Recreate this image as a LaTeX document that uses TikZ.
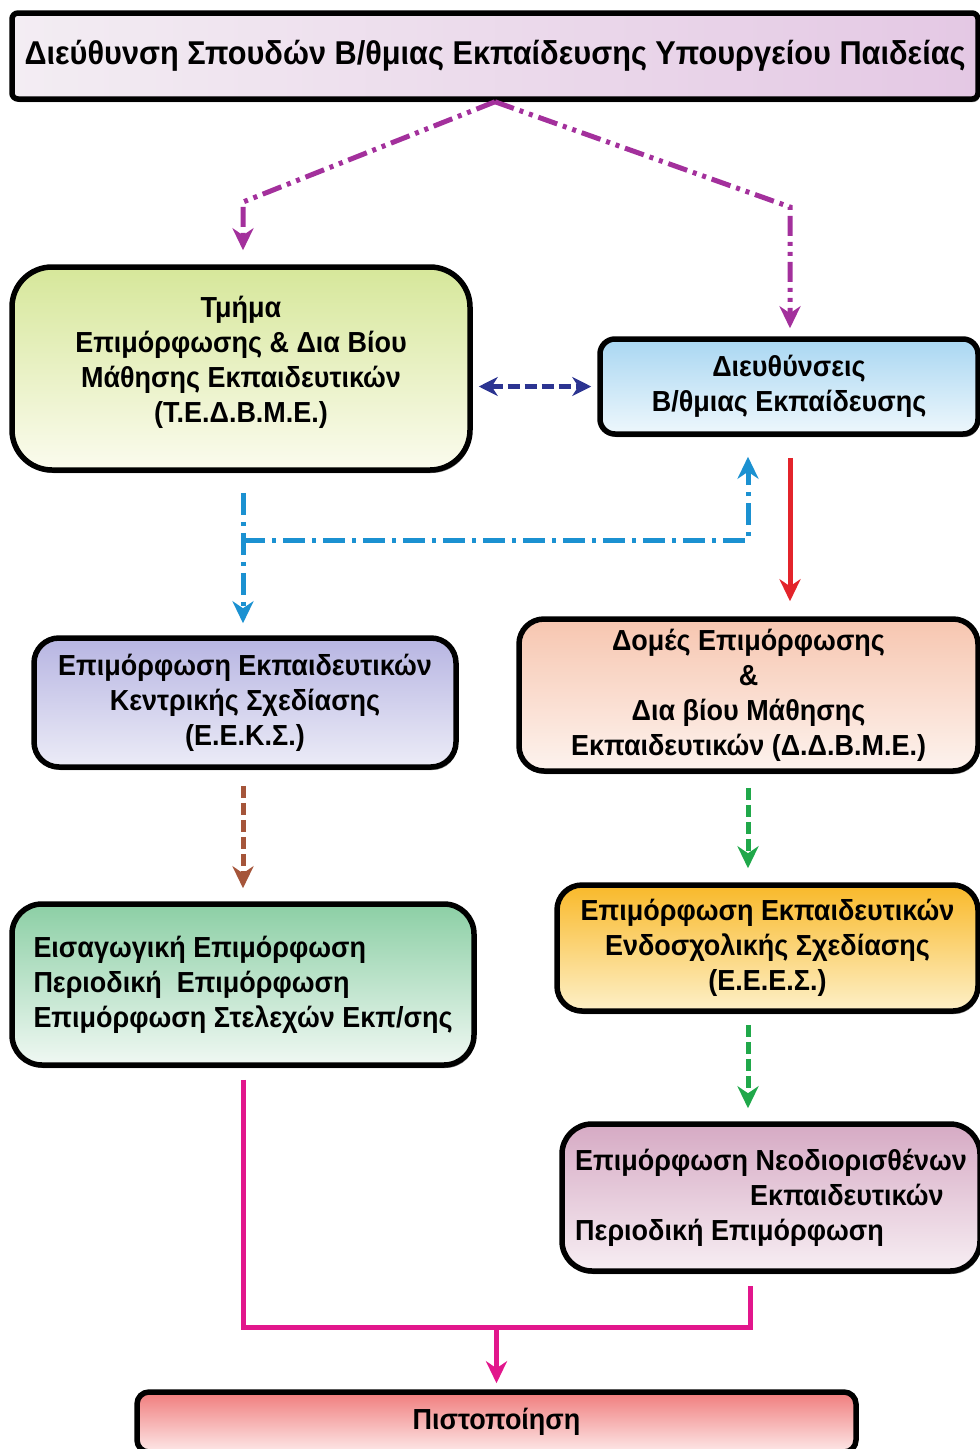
\documentclass[tikz,border=0pt]{standalone}
\usepackage{fontspec}
\setmainfont{Liberation Sans}[FakeStretch=0.93]
\usetikzlibrary{arrows.meta,shadows}
\definecolor{cpurple}{HTML}{A3309C}
\definecolor{cdblue}{HTML}{2C3491}
\definecolor{ccyan}{HTML}{1B91D1}
\definecolor{cred}{HTML}{E3242B}
\definecolor{cbrown}{HTML}{A5553A}
\definecolor{cgreen}{HTML}{20A84A}
\definecolor{cmag}{HTML}{E2168C}
\definecolor{topL}{HTML}{F3EDF3}
\definecolor{topR}{HTML}{E4C8E4}
\definecolor{tedT}{HTML}{D6E79A}
\definecolor{tedB}{HTML}{FBFBEE}
\definecolor{dirT}{HTML}{A9D7F2}
\definecolor{dirB}{HTML}{EEF7FC}
\definecolor{eeksT}{HTML}{B7B5E2}
\definecolor{eeksB}{HTML}{ECECF7}
\definecolor{ddbT}{HTML}{F7C6B0}
\definecolor{ddbB}{HTML}{FDF3EE}
\definecolor{intT}{HTML}{8CCFA5}
\definecolor{intB}{HTML}{F0F8F3}
\definecolor{eeesT}{HTML}{F9B92A}
\definecolor{eeesB}{HTML}{FDF0C8}
\definecolor{neoT}{HTML}{D6AAC4}
\definecolor{neoB}{HTML}{F7EEF3}
\definecolor{pistT}{HTML}{F07C7C}
\definecolor{pistB}{HTML}{FDE8E8}
\begin{document}
\begin{tikzpicture}[x=1pt,y=-1pt,
  box/.style={draw=black, line width=5.5pt, rounded corners=#1, align=center,
    inner sep=0pt, font=\bfseries\fontsize{29}{35}\selectfont,
    drop shadow={shadow xshift=1.5pt, shadow yshift=-3pt, fill=black!65, opacity=0.8}},
  box/.default=20,
  conn/.style={line width=5pt},
  tip/.style={-{Stealth[length=22pt,width=21pt,inset=7pt]}},
  dashdotdot/.style={dash pattern=on 20pt off 6pt on 4pt off 6pt on 4pt off 6pt},
  dashdotline/.style={dash pattern=on 22pt off 7pt on 4pt off 7pt},
  dashline/.style={dash pattern=on 12pt off 5pt}]
\useasboundingbox (0,0) rectangle (980,1449);

\node[box=6, minimum width=966pt, minimum height=86pt, left color=topL, right color=topR,
  font=\bfseries\fontsize{33}{38}\selectfont] (top) at (495,56)
  {Διεύθυνση Σπουδών Β/θμιας Εκπαίδευσης Υπουργείου Παιδείας};

\node[box=40, minimum width=458pt, minimum height=203pt, top color=tedT, bottom color=tedB] (ted) at (241,368.5)
  {Τμήμα\\Επιμόρφωσης \& Δια Βίου\\Μάθησης Εκπαιδευτικών\\(Τ.Ε.Δ.Β.Μ.Ε.)\\[-17pt]\mbox{}};

\node[box=15, minimum width=378pt, minimum height=95pt, top color=dirT, bottom color=dirB] (dir) at (789,386.5)
  {Διευθύνσεις\\Β/θμιας Εκπαίδευσης};

\node[box=25, minimum width=422pt, minimum height=129pt, top color=eeksT, bottom color=eeksB] (eeks) at (245,702.5)
  {Επιμόρφωση Εκπαιδευτικών\\Κεντρικής Σχεδίασης\\(Ε.Ε.Κ.Σ.)};

\node[box=25, minimum width=459pt, minimum height=152pt, top color=ddbT, bottom color=ddbB] (ddb) at (748.5,695)
  {Δομές Επιμόρφωσης\\\&\\Δια βίου Μάθησης\\Εκπαιδευτικών (Δ.Δ.Β.Μ.Ε.)};

\node[box=30, minimum width=462pt, minimum height=161pt, top color=intT, bottom color=intB, align=left] (intro) at (243,984.5)
  {Εισαγωγική Επιμόρφωση\\Περιοδική\ \ Επιμόρφωση\\Επιμόρφωση Στελεχών Εκπ/σης};

\node[box=25, minimum width=421pt, minimum height=126pt, top color=eeesT, bottom color=eeesB] (eees) at (767.5,948)
  {Επιμόρφωση Εκπαιδευτικών\\Ενδοσχολικής Σχεδίασης\\(Ε.Ε.Ε.Σ.)};

\node[box=30, minimum width=418pt, minimum height=147pt, top color=neoT, bottom color=neoB, align=left] (neo) at (771,1197.5)
  {Επιμόρφωση Νεοδιορισθένων\\\hspace*{175pt}Εκπαιδευτικών\\Περιοδική Επιμόρφωση};

\node[box=12, minimum width=719pt, minimum height=60pt, top color=pistT, bottom color=pistB] (pist) at (496.5,1422)
  {Πιστοποίηση};

% purple connectors
\coordinate (p1) at (243,202);
\coordinate (p2) at (790,207);
\draw[conn, cpurple, dashdotdot, tip, shorten >=14pt] (top.south) -- (p1) -- (p1 |- ted.north);
\draw[conn, cpurple, dashdotdot, tip, shorten >=8pt] (top.south) -- (p2) -- (p2 |- dir.north);

% dark blue double arrow
\draw[line width=4.5pt, cdblue, dashline,
  {Stealth[length=19pt,width=19pt,inset=6pt]}-{Stealth[length=19pt,width=19pt,inset=6pt]},
  shorten <=6pt, shorten >=6pt] (dir.west -| ted.east) -- (dir.west);

% cyan connectors
\coordinate (c1) at (243,540);
\coordinate (c2) at (748,540);
\draw[conn, ccyan, dashdotline, tip, shorten <=20pt, shorten >=12pt] (ted.south -| c1) -- (eeks.north -| c1);
\draw[conn, ccyan, dashdotline, tip, shorten >=20pt] (c1) -- (c2) -- (dir.south -| c2);

% red
\coordinate (rx) at (790,0);
\draw[conn, cred, tip, shorten <=21pt, shorten >=15pt] (dir.south -| rx) -- (ddb.north -| rx);

% brown
\draw[conn, cbrown, dashline, tip, shorten <=16pt, shorten >=13pt] (eeks.south -| c1) -- (intro.north -| c1);

% green
\draw[conn, cgreen, dashline, tip, shorten <=14pt, shorten >=14pt] (ddb.south -| c2) -- (eees.north -| c2);
\draw[conn, cgreen, dashline, tip, shorten <=11pt, shorten >=13pt] (eees.south -| c2) -- (neo.north -| c2);

% magenta
\coordinate (m1) at (243,1327);
\coordinate (m2) at (750,1327);
\draw[conn, cmag, shorten <=12pt, shorten >=12pt] (intro.south -| m1) -- (m1) -- (m2) -- (neo.south -| m2);
\draw[conn, cmag, tip, shorten >=6pt] (m1 -| pist.north) -- (pist.north);
\end{tikzpicture}
\end{document}
